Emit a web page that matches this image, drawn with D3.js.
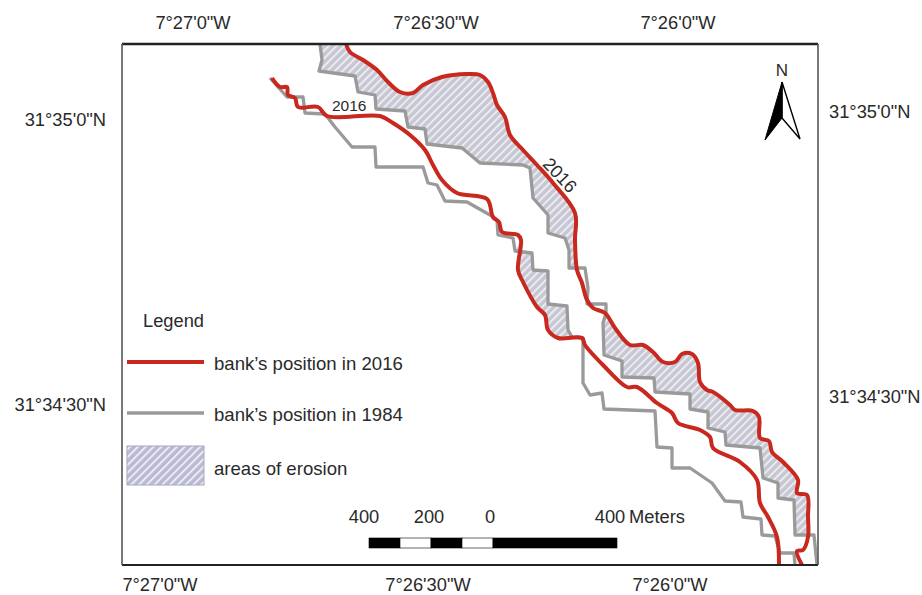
<!DOCTYPE html>
<html>
<head>
<meta charset="utf-8">
<script src="https://cdn.jsdelivr.net/npm/d3@7"></script>
<style>
body{margin:0;background:#fff;}
text{font-family:"Liberation Sans",Arial,sans-serif;fill:#2a2a2a;}
</style>
</head>
<body>
<script>
// bank traces as [across, down] inside the frame
var bank2016East=[[224,0],[228,8],[241,16],[255,26],[266,38],[278,48],[291,49],[301,41],[320,33],[345,30],[358,31],[366,38],[371,49],[375,61],[383,73],[388,91],[401,106],[415,121],[431,139],[453,169],[453,196],[455,226],[460,239],[465,256],[471,264],[483,269],[493,284],[508,301],[521,301],[531,308],[541,318],[553,318],[560,310],[570,310],[576,319],[578,338],[585,346],[591,348],[608,361],[613,366],[631,367],[637,373],[638,394],[647,397],[650,408],[661,418],[676,436],[675,449],[685,451],[686,473],[686,493],[681,506],[675,507],[680,521]];
var bank2016West=[[150,34],[158,43],[165,43],[166,51],[173,54],[176,63],[196,63],[205,72],[258,72],[271,79],[288,91],[303,106],[311,121],[320,136],[335,149],[365,155],[371,173],[377,178],[380,188],[396,191],[399,196],[396,226],[401,238],[415,263],[423,271],[426,286],[436,294],[460,294],[463,301],[481,321],[505,343],[515,343],[535,359],[550,369],[556,379],[578,386],[588,393],[591,404],[618,418],[635,436],[638,459],[646,473],[655,493],[657,521]];
var bank1984East=[[198,0],[200,16],[197,27],[233,32],[236,48],[253,51],[254,65],[283,67],[286,83],[303,85],[305,100],[340,104],[358,119],[401,121],[408,124],[411,154],[426,171],[426,189],[443,194],[447,206],[447,224],[463,224],[466,244],[465,260],[484,260],[484,269],[481,279],[482,311],[500,317],[500,333],[532,334],[533,348],[568,350],[568,365],[586,368],[586,384],[603,388],[604,401],[638,404],[641,434],[656,439],[656,454],[672,456],[673,491],[692,491],[695,521]];
var bank1984West=[[148,34],[165,53],[181,53],[183,69],[203,70],[213,83],[230,103],[253,103],[254,123],[301,123],[306,139],[315,141],[323,157],[345,158],[368,171],[375,176],[376,191],[391,194],[393,207],[410,209],[411,226],[426,227],[426,260],[445,262],[446,286],[450,293],[461,294],[461,339],[468,351],[480,349],[482,365],[533,367],[535,403],[550,404],[550,424],[568,424],[590,439],[603,457],[619,458],[621,473],[639,475],[640,491],[653,492],[658,509],[672,509],[673,521]];

var lonLabels=['7°27\'0"W','7°26\'30"W','7°26\'0"W'];
var latLabels=['31°35\'0"N','31°34\'30"N'];
var legendNames=["bank’s position in 2016","bank’s position in 1984","areas of erosion"];
var scaleStops=[-400,-300,-200,-100,0,400];
var scaleLabels=[-400,-200,0,400];

var width=922,height=595;
var frame={left:122,top:44,right:818,bottom:565};
var labelSize='18.3px';

var svg=d3.select('body').append('svg')
  .attr('width',width).attr('height',height)
  .style('display','block');

var x=d3.scaleLinear().domain([0,696]).range([frame.left,frame.right]);
var y=d3.scaleLinear().domain([0,521]).range([frame.top,frame.bottom]);
var line=d3.line().x(d=>x(d[0])).y(d=>y(d[1])).curve(d3.curveLinear);
var smooth=d3.line().x(d=>x(d[0])).y(d=>y(d[1])).curve(d3.curveCatmullRom.alpha(0.5));

var defs=svg.append('defs');
defs.append('clipPath').attr('id','mapclip').append('rect')
  .attr('x',frame.left).attr('y',frame.top)
  .attr('width',frame.right-frame.left).attr('height',frame.bottom-frame.top);

function hatch(id,bg,stripe){
  var p=defs.append('pattern').attr('id',id).attr('patternUnits','userSpaceOnUse')
    .attr('width',5.5).attr('height',5.5).attr('patternTransform','rotate(45)');
  p.append('rect').attr('width',5.5).attr('height',5.5).attr('fill',bg);
  p.append('rect').attr('width',2).attr('height',5.5).attr('fill',stripe);
}
hatch('erosion','#c6c7d2','#ebebf1');
hatch('erosionKey','#b9b9d4','#ebebf3');

var map=svg.append('g').attr('clip-path','url(#mapclip)');

// erosion = ground between the two bank positions
var erosion=[
  bank2016East.slice(0,22).concat(bank1984East.slice(0,21).reverse()),
  bank2016East.slice(25,51).concat(bank1984East.slice(25,44).reverse()),
  bank2016West.slice(20,27).concat(bank1984West.slice(18,26).reverse())
];
erosion.forEach(function(poly){
  map.append('path').attr('d',line(poly)+'Z').attr('fill','url(#erosion)');
});

[bank1984East,bank1984West].forEach(function(b){
  map.append('path').attr('d',line(b)).attr('fill','none')
    .attr('stroke','#9a9a9a').attr('stroke-width',3.3).attr('stroke-linejoin','round');
});
[bank2016East,bank2016West].forEach(function(b){
  map.append('path').attr('d',smooth(b)).attr('fill','none')
    .attr('stroke','#c9281f').attr('stroke-width',4).attr('stroke-linejoin','round');
});

// frame
svg.append('line').attr('x1',frame.left).attr('x2',frame.right).attr('y1',frame.top).attr('y2',frame.top)
  .attr('stroke','#222').attr('stroke-width',2.5);
svg.append('line').attr('x1',frame.left).attr('x2',frame.right).attr('y1',frame.bottom).attr('y2',frame.bottom)
  .attr('stroke','#222').attr('stroke-width',2);
svg.append('line').attr('x1',frame.left).attr('x2',frame.left).attr('y1',frame.top).attr('y2',frame.bottom)
  .attr('stroke','#555').attr('stroke-width',1.6);
svg.append('line').attr('x1',frame.right).attr('x2',frame.right).attr('y1',frame.top).attr('y2',frame.bottom)
  .attr('stroke','#555').attr('stroke-width',1.6);

// graticule labels, the four sides do not line up on the original
var lonTopX=d3.scaleOrdinal().domain(lonLabels).range([193,436,678]);
var lonBottomX=d3.scaleOrdinal().domain(lonLabels).range([160,428,670]);
svg.selectAll('.lontop').data(lonLabels).enter().append('text').attr('class','lontop')
  .text(d=>d).attr('x',d=>lonTopX(d)).attr('y',29).attr('text-anchor','middle').style('font-size',labelSize);
svg.selectAll('.lonbot').data(lonLabels).enter().append('text').attr('class','lonbot')
  .text(d=>d).attr('x',d=>lonBottomX(d)).attr('y',591).attr('text-anchor','middle').style('font-size',labelSize);

var latLeftY=d3.scaleOrdinal().domain(latLabels).range([126,411]);
var latRightY=d3.scaleOrdinal().domain(latLabels).range([118,403]);
svg.selectAll('.latl').data(latLabels).enter().append('text').attr('class','latl')
  .text(d=>d).attr('x',106).attr('y',d=>latLeftY(d)).attr('text-anchor','end').style('font-size',labelSize);
svg.selectAll('.latr').data(latLabels).enter().append('text').attr('class','latr')
  .text(d=>d).attr('x',829).attr('y',d=>latRightY(d)).style('font-size',labelSize);

// labels on the lines
svg.append('text').text('2016').attr('x',332).attr('y',111).style('font-size','15.5px');
svg.append('text').text('2016').attr('transform','translate(560,175) rotate(47)')
  .attr('text-anchor','middle').attr('dy','0.35em').style('font-size','18px');

// legend
svg.append('text').text('Legend').attr('x',143).attr('y',327).style('font-size',labelSize);
svg.append('line').attr('x1',127).attr('x2',204).attr('y1',362).attr('y2',362)
  .attr('stroke','#c9281f').attr('stroke-width',4);
svg.append('line').attr('x1',127).attr('x2',204).attr('y1',413).attr('y2',413)
  .attr('stroke','#9a9a9a').attr('stroke-width',3.3);
svg.append('rect').attr('x',127).attr('y',446).attr('width',77).attr('height',39)
  .attr('fill','url(#erosionKey)').attr('stroke','#a5a5c8').attr('stroke-width',1);
var legendY=[370,421,475];
legendNames.forEach(function(n,i){
  svg.append('text').text(n).attr('x',214).attr('y',legendY[i]).style('font-size','18.6px');
});

// scale bar
var metres=d3.scaleLinear().domain([-400,400]).range([369,617]);
d3.pairs(scaleStops).forEach(function(p,i){
  svg.append('rect').attr('x',metres(p[0])).attr('y',538)
    .attr('width',metres(p[1])-metres(p[0])).attr('height',10)
    .attr('fill',i%2==0?'#000':'#fff').attr('stroke','#000').attr('stroke-width',0.6);
});
var scaleLabelX=[364,429,490,610];
scaleLabels.forEach(function(v,i){
  svg.append('text').text(Math.abs(v)).attr('x',scaleLabelX[i]).attr('y',523)
    .attr('text-anchor','middle').style('font-size',labelSize);
});
svg.append('text').text('Meters').attr('x',629).attr('y',523).style('font-size',labelSize);

// north arrow
svg.append('text').text('N').attr('x',782).attr('y',76).attr('text-anchor','middle').style('font-size','17px');
svg.append('path').attr('d','M782,82L800,139L782,118Z').attr('fill','#fff').attr('stroke','#000').attr('stroke-width',1.4);
svg.append('path').attr('d','M782,82L765,140L782,118Z').attr('fill','#000').attr('stroke','#000').attr('stroke-width',1);
</script>
</body>
</html>
